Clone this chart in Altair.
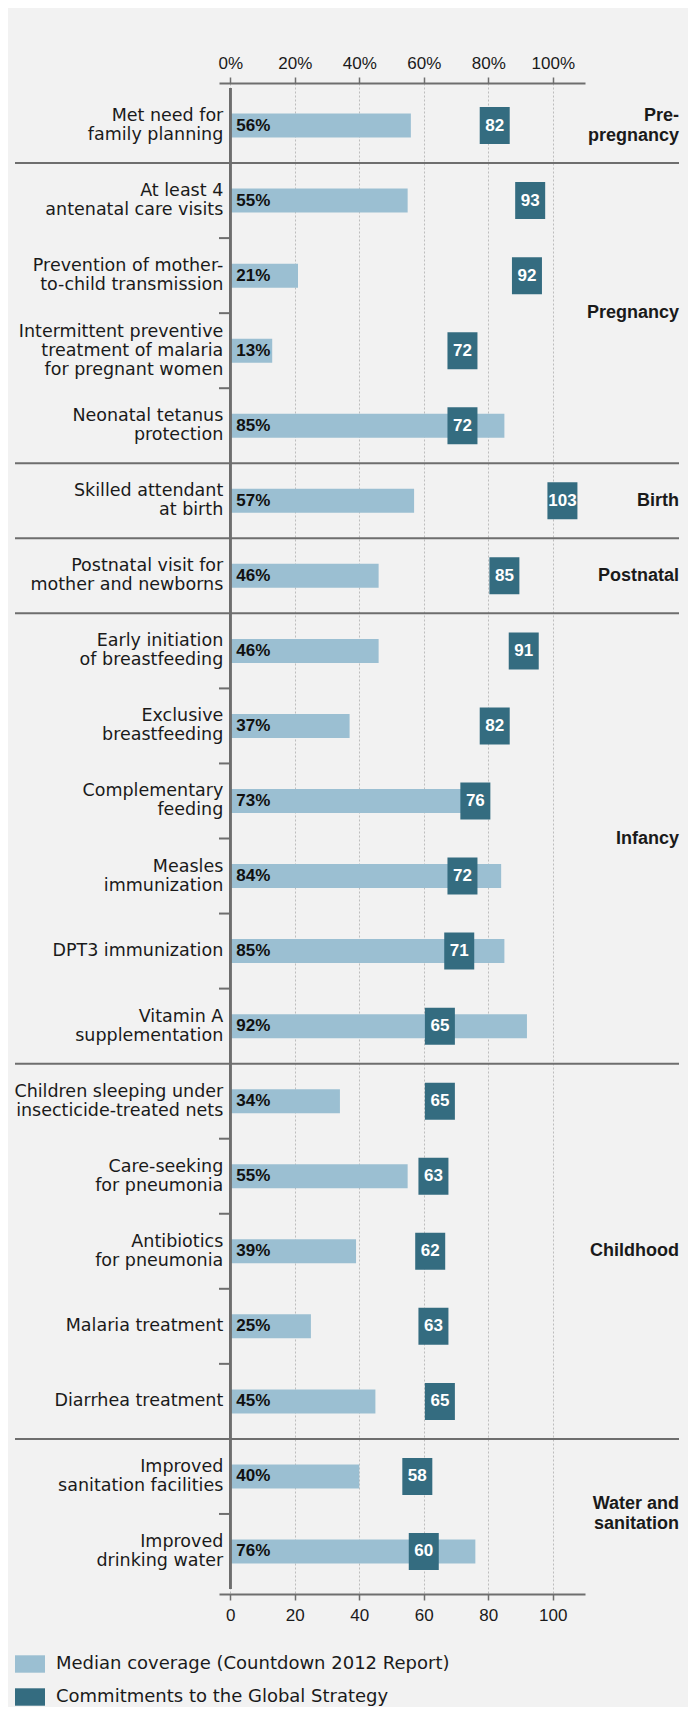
import altair as alt
import pandas as pd

items = [
    "Met need for\nfamily planning",
    "At least 4\nantenatal care visits",
    "Prevention of mother-\nto-child transmission",
    "Intermittent preventive\ntreatment of malaria\nfor pregnant women",
    "Neonatal tetanus\nprotection",
    "Skilled attendant\nat birth",
    "Postnatal visit for\nmother and newborns",
    "Early initiation\nof breastfeeding",
    "Exclusive\nbreastfeeding",
    "Complementary\nfeeding",
    "Measles\nimmunization",
    "DPT3 immunization",
    "Vitamin A\nsupplementation",
    "Children sleeping under\ninsecticide-treated nets",
    "Care-seeking\nfor pneumonia",
    "Antibiotics\nfor pneumonia",
    "Malaria treatment",
    "Diarrhea treatment",
    "Improved\nsanitation facilities",
    "Improved\ndrinking water",
]
coverage = [56, 55, 21, 13, 85, 57, 46, 46, 37, 73, 84, 85, 92, 34, 55, 39, 25, 45, 40, 76]
commitments = [82, 93, 92, 72, 72, 103, 85, 91, 82, 76, 72, 71, 65, 65, 63, 62, 63, 65, 58, 60]
groups = ["Pre-\npregnancy", "Pregnancy", "Birth", "Postnatal", "Infancy", "Childhood", "Water and\nsanitation"]
group_sizes = [1, 4, 1, 1, 6, 5, 2]
tick_values = [0, 20, 40, 60, 80, 100]
S1 = "Median coverage (Countdown 2012 Report)"
S2 = "Commitments to the Global Strategy"

LIGHT = "#9bbfd2"
DARK = "#346c80"
LINE = "#6e6e6e"
GRID = "#bdbdbd"
TXT = "#1a1a1a"
FONT = "Liberation Sans"
TFONT = "DejaVu Sans"
LH_ITEM = 19
LH_GROUP = 20

n = len(items)
rows = pd.DataFrame({
    "item": items,
    "nlines": [t.count("\n") + 1 for t in items],
    "coverage": coverage,
    "commit": commitments,
    "pos": [i + 0.5 for i in range(n)],
    "cov_label": [f"{v}%" for v in coverage],
    "s1": S1,
    "s2": S2,
})

starts = []
acc = 0
for s in group_sizes:
    starts.append(acc)
    acc += s
group_df = pd.DataFrame({
    "label": groups,
    "nlines": [g.count("\n") + 1 for g in groups],
    "center": [st + sz / 2 for st, sz in zip(starts, group_sizes)],
})
sep_df = pd.DataFrame({"b": [s for s in starts if s > 0]})
tick_df = pd.DataFrame({"b": [b for b in range(1, n) if b not in starts]})

xs = alt.Scale(domain=[-3.5, 110], nice=False, zero=False)
ys = alt.Scale(domain=[0, n], reverse=True, nice=False, zero=False)
cs = alt.Scale(domain=[S1, S2], range=[LIGHT, DARK])

legend = alt.Legend(
    orient="none", legendX=-204, legendY=1566, title=None, direction="vertical",
    symbolType="M-1,-0.58L1,-0.58L1,0.58L-1,0.58Z", symbolSize=900,
    symbolStrokeWidth=0, symbolOpacity=1, labelFontSize=18, labelColor=TXT,
    labelFont=TFONT, labelOffset=11, rowPadding=9, padding=0, labelLimit=700,
)

common_axis = dict(
    values=tick_values, title=None, domainColor=LINE, domainWidth=2,
    tickColor=LINE, tickSize=6, tickWidth=1.5,
    labelFontSize=17, labelColor=TXT, labelFont=FONT, labelFlush=False,
)
top_axis = alt.Axis(orient="top", labelExpr="datum.value + '%'", grid=True,
                    gridColor=GRID, gridDash=[2, 2], gridWidth=1, labelPadding=5,
                    **common_axis)
bottom_axis = alt.Axis(orient="bottom", grid=False, labelPadding=7, **common_axis)

Y = alt.Y("pos:Q", scale=ys, axis=None)

bars = alt.Chart(rows).mark_bar(orient="horizontal", size=24, opacity=1).encode(
    x=alt.X("coverage:Q", scale=xs, axis=top_axis),
    x2=alt.datum(0),
    y=Y,
    color=alt.Color("s1:N", scale=cs, legend=legend),
)

squares = alt.Chart(rows).mark_tick(orient="vertical", size=37, thickness=30, opacity=1).encode(
    x=alt.X("commit:Q", scale=xs, axis=bottom_axis),
    y=Y,
    color=alt.Color("s2:N", scale=cs, legend=legend),
)

cov_text = alt.Chart(rows).mark_text(
    align="left", baseline="middle", dx=6, fontSize=17, fontWeight="bold", color="#111111", font=FONT
).encode(
    x=alt.XDatum(0, scale=xs, axis=None),
    y=Y,
    text="cov_label:N",
)

commit_text = alt.Chart(rows).mark_text(
    align="center", baseline="middle", fontSize=17, fontWeight="bold", color="white", font=FONT
).encode(
    x=alt.X("commit:Q", scale=xs, axis=None),
    y=Y,
    text="commit:Q",
)

item_layers = []
for L in sorted(set(rows["nlines"])):
    item_layers.append(
        alt.Chart(rows).transform_filter(alt.datum.nlines == L).mark_text(
            align="right", baseline="middle", dx=-7, dy=-(L - 1) * LH_ITEM / 2,
            fontSize=17.5, lineHeight=LH_ITEM, lineBreak="\n", color=TXT, font=TFONT
        ).encode(
            x=alt.XDatum(0, scale=xs, axis=None),
            y=Y,
            text="item:N",
        )
    )

group_layers = []
for L in sorted(set(group_df["nlines"])):
    group_layers.append(
        alt.Chart(group_df).transform_filter(alt.datum.nlines == L).mark_text(
            align="right", baseline="middle", dy=-(L - 1) * LH_GROUP / 2,
            fontSize=18, fontWeight="bold", lineHeight=LH_GROUP,
            lineBreak="\n", color=TXT, font=FONT
        ).encode(
            x=alt.value(460),
            y=alt.Y("center:Q", scale=ys, axis=None),
            text="label:N",
        )
    )

seps = alt.Chart(sep_df).mark_rule(color=LINE, strokeWidth=2).encode(
    x=alt.value(-204),
    x2=alt.value(460),
    y=alt.Y("b:Q", scale=ys, axis=None),
)

ticks = alt.Chart(tick_df).mark_rule(color=LINE, strokeWidth=2).encode(
    x=alt.XDatum(-3.5, scale=xs, axis=None),
    x2=alt.datum(0),
    y=alt.Y("b:Q", scale=ys, axis=None),
)

zero_line = alt.Chart(group_df).mark_rule(color=LINE, strokeWidth=2).encode(
    x=alt.XDatum(0, scale=xs, axis=None),
    y=alt.YDatum(0, scale=ys, axis=None),
    y2=alt.datum(n),
)

chart = alt.layer(
    bars, squares, cov_text, commit_text, *item_layers, *group_layers, seps, ticks, zero_line
).properties(
    width=366,
    height=1511,
    padding={"left": 211, "top": 75, "right": 103, "bottom": 113},
    autosize=alt.AutoSizeParams(type="none"),
).resolve_axis(
    x="independent"
).configure(
    background="#f2f2f2",
    font=FONT,
).configure_view(
    stroke=None
)

chart.save("out.html", embed_options={"renderer": "svg", "actions": False})
